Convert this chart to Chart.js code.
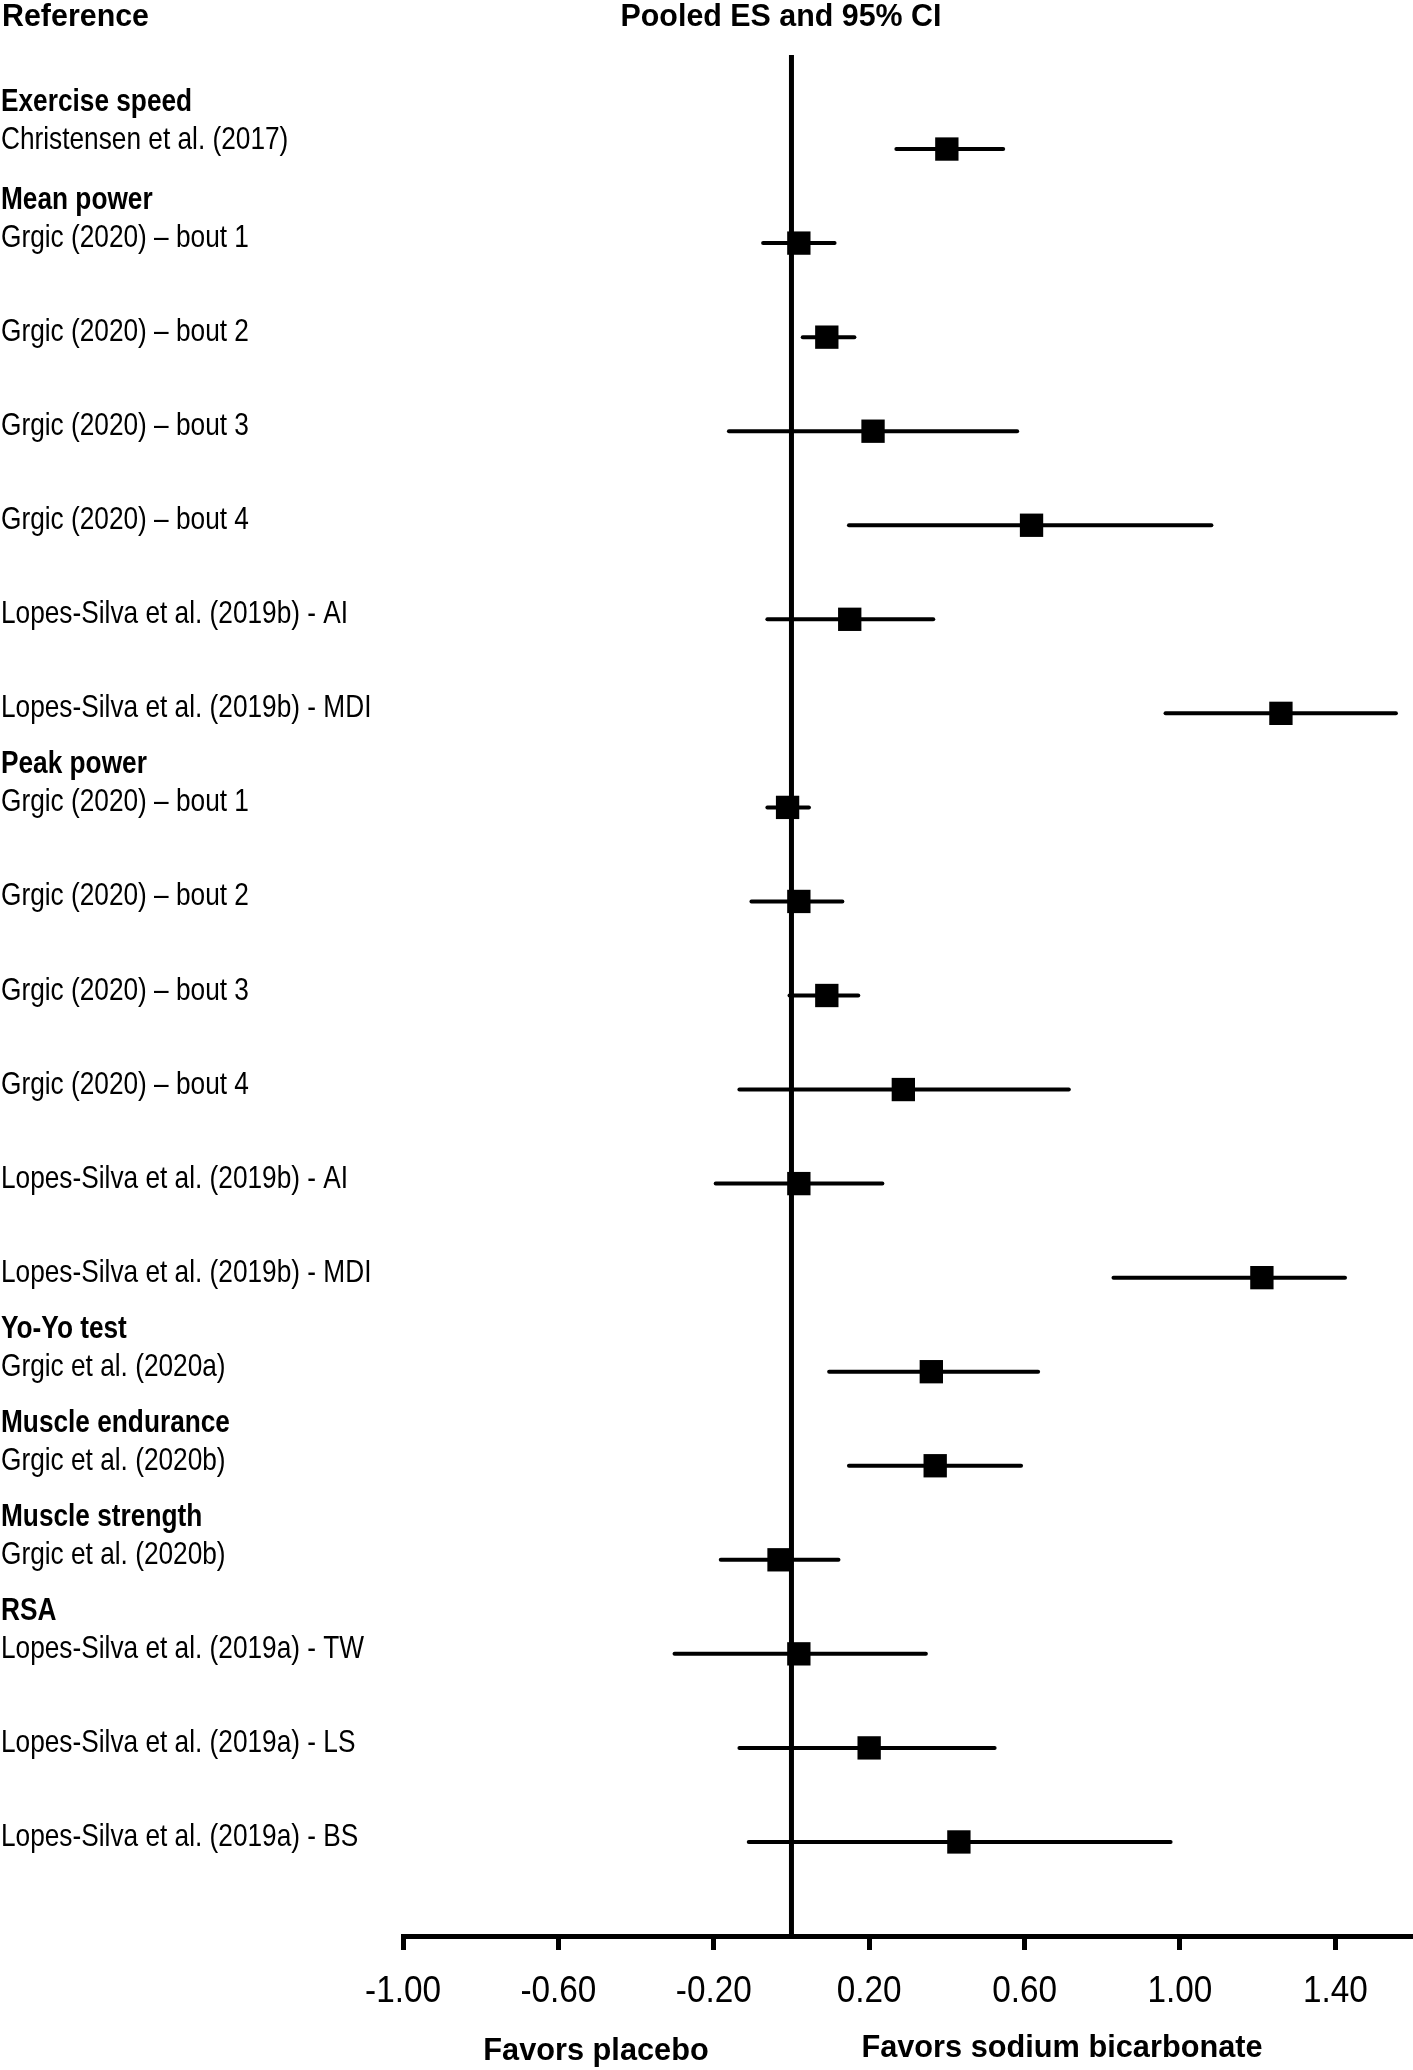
<!DOCTYPE html>
<html>
<head>
<meta charset="utf-8">
<script src="https://cdn.jsdelivr.net/npm/chart.js@4.4.1/dist/chart.umd.min.js"></script>
<style>
  html, body { margin: 0; padding: 0; background: #fff; }
  canvas { display: block; }
</style>
</head>
<body>
<canvas id="forest" width="1413" height="2070"></canvas>
<script>
// study rows, top to bottom
const studies = [
    'Christensen et al. (2017)',
    'Grgic (2020) \u2013 bout 1',
    'Grgic (2020) \u2013 bout 2',
    'Grgic (2020) \u2013 bout 3',
    'Grgic (2020) \u2013 bout 4',
    'Lopes-Silva et al. (2019b) - AI',
    'Lopes-Silva et al. (2019b) - MDI',
    'Grgic (2020) \u2013 bout 1',
    'Grgic (2020) \u2013 bout 2',
    'Grgic (2020) \u2013 bout 3',
    'Grgic (2020) \u2013 bout 4',
    'Lopes-Silva et al. (2019b) - AI',
    'Lopes-Silva et al. (2019b) - MDI',
    'Grgic et al. (2020a)',
    'Grgic et al. (2020b)',
    'Grgic et al. (2020b)',
    'Lopes-Silva et al. (2019a) - TW',
    'Lopes-Silva et al. (2019a) - LS',
    'Lopes-Silva et al. (2019a) - BS'
];

// outcome headings and the row each one sits above
const groupNames = ['Exercise speed', 'Mean power', 'Peak power', 'Yo-Yo test',
    'Muscle endurance', 'Muscle strength', 'RSA'];
const groupStart = [0, 1, 7, 13, 14, 15, 16];

// pooled effect sizes and 95% CI
const es    = [0.40, 0.019, 0.091, 0.210, 0.618, 0.150, 1.260, -0.010, 0.019, 0.091, 0.288, 0.019, 1.211, 0.360, 0.370, -0.032, 0.019, 0.200, 0.431];
const ciLow = [0.270, -0.073, 0.029, -0.161, 0.148, -0.062, 0.963, -0.062, -0.103, -0.005, -0.134, -0.195, 0.829, 0.097, 0.148, -0.182, -0.301, -0.134, -0.110];
const ciHigh = [0.545, 0.111, 0.162, 0.581, 1.081, 0.365, 1.556, 0.045, 0.131, 0.172, 0.714, 0.234, 1.425, 0.635, 0.591, 0.121, 0.346, 0.523, 0.976];

const xTicks = [-1.0, -0.6, -0.2, 0.2, 0.6, 1.0, 1.4];

const FONT = '"Liberation Sans", Arial, sans-serif';

// draw text squeezed horizontally, like the narrow face in the original
function narrowText(ctx, str, x, y, font, sx, align) {
    ctx.save();
    ctx.translate(x, y);
    ctx.scale(sx, 1);
    ctx.font = font;
    ctx.fillStyle = '#000';
    ctx.textAlign = align || 'left';
    ctx.textBaseline = 'alphabetic';
    ctx.fillText(str, 0, 0);
    ctx.restore();
}

const textPlugin = {
    id: 'forestText',
    afterDraw(chart) {
        const ctx = chart.ctx;
        const xs = chart.scales.x;
        const ys = chart.scales.y;

        narrowText(ctx, 'Reference', 2, 26, 'bold 32px ' + FONT, 0.95);
        narrowText(ctx, 'Pooled ES and 95% CI', 781, 26, 'bold 32px ' + FONT, 0.95, 'center');

        studies.forEach((s, i) => {
            const base = ys.getPixelForValue(i) + (i === 0 ? 0 : 4);
            narrowText(ctx, s, 1, base, '32px ' + FONT, 0.82);
        });
        groupNames.forEach((g, k) => {
            const i = groupStart[k];
            const base = ys.getPixelForValue(i) + (i === 0 ? 0 : 4) - 38;
            narrowText(ctx, g, 1, base, 'bold 32px ' + FONT, 0.82);
        });

        xs.ticks.forEach(t => {
            narrowText(ctx, t.value.toFixed(2), xs.getPixelForValue(t.value), 2002,
                '37px ' + FONT, 0.9, 'center');
        });

        narrowText(ctx, 'Favors placebo', 596, 2060, 'bold 32px ' + FONT, 0.96, 'center');
        narrowText(ctx, 'Favors sodium bicarbonate', 1062, 2057, 'bold 32px ' + FONT, 0.96, 'center');
    }
};

const markerSet = {
    label: 'ES',
    data: es.map((v, i) => ({x: v, y: i})),
    pointStyle: 'rect',
    pointRadius: 16.5,
    backgroundColor: '#000',
    borderColor: '#000',
    borderWidth: 0,
    showLine: false
};

const ciSets = studies.map((s, i) => ({
    label: 'CI ' + i,
    data: [{x: ciLow[i], y: i}, {x: ciHigh[i], y: i}],
    showLine: true,
    borderColor: '#000',
    borderWidth: 4,
    borderCapStyle: 'round',
    pointRadius: 0
}));

const zeroLine = {
    label: 'zero',
    data: [{x: 0, y: -1}, {x: 0, y: 19}],
    showLine: true,
    borderColor: '#000',
    borderWidth: 5,
    pointRadius: 0
};

new Chart(document.getElementById('forest'), {
    type: 'scatter',
    data: {
        datasets: [markerSet, ...ciSets, zeroLine]
    },
    options: {
        responsive: false,
        animation: false,
        events: [],
        layout: {
            autoPadding: false,
            padding: {left: 403, top: 55, right: 0, bottom: 0}
        },
        plugins: {
            legend: {display: false},
            tooltip: {enabled: false},
            title: {display: false}
        },
        scales: {
            x: {
                type: 'linear',
                min: -1.0,
                max: 1.6,
                afterBuildTicks: scale => {
                    scale.ticks = xTicks.map(v => ({value: v}));
                },
                afterFit: scale => {
                    scale.height = 134;
                },
                ticks: {display: false},
                grid: {
                    display: true,
                    drawOnChartArea: false,
                    drawTicks: true,
                    tickLength: 14,
                    lineWidth: 5,
                    color: '#000'
                },
                border: {display: true, width: 5, color: '#000'}
            },
            y: {
                type: 'linear',
                reverse: true,
                min: -1,
                max: 19,
                display: false
            }
        }
    },
    plugins: [textPlugin]
});
</script>
</body>
</html>
